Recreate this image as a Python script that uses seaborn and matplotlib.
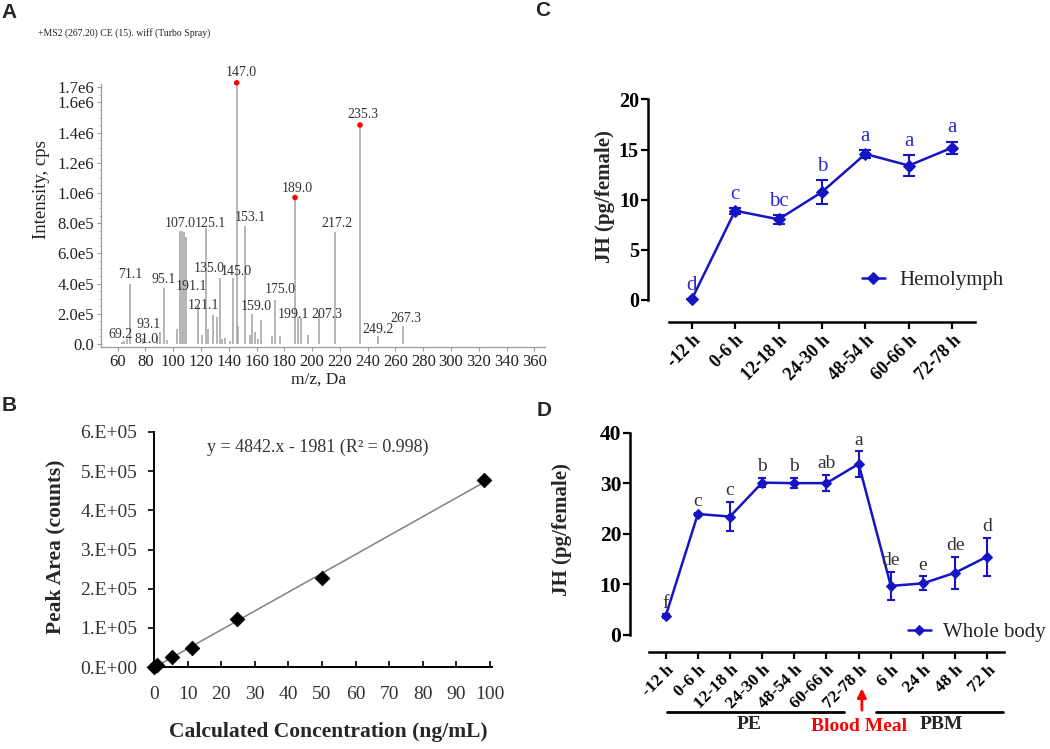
import numpy as np
import pandas as pd
import matplotlib.pyplot as plt
import seaborn as sns
from matplotlib.ticker import MultipleLocator

sns.set_theme(style="white")
plt.rcParams["font.family"] = ["Liberation Serif", "DejaVu Serif"]

SANS = ["Liberation Sans", "DejaVu Sans"]
BLUE = "#1515c4"


# A. MS2 spectrum (intensity in 1e5 cps)
ms_mz = [62.9, 64.6, 66.5, 68.9, 78.5, 88.1, 90.5, 93.4, 95.3, 102.5,
         104.9, 106.1, 107.8, 109.2, 118.0, 120.5, 123.4, 125.3, 128.9, 131.3,
         133.7, 134.9, 137.3, 140.9, 143.1, 145.7, 146.8, 151.7, 155.3, 156.9,
         158.9, 161.2, 163.0, 170.9, 173.3, 176.9, 187.7, 189.5, 191.8, 197.2,
         205.2, 216.5, 234.5, 247.2, 265.6]
ms_int = [0.1, 0.2, 0.3, 4.0, 0.4, 0.5, 0.8, 3.7, 0.25, 1.0,
          7.5, 7.5, 7.4, 7.1, 2.6, 0.6, 7.7, 1.0, 1.9, 1.8,
          4.4, 0.3, 0.4, 0.2, 4.35, 17.3, 1.2, 7.8, 0.6, 2.0,
          0.8, 0.3, 1.6, 0.5, 2.9, 0.5, 9.7, 1.8, 1.7, 0.6,
          2.05, 7.4, 14.5, 0.55, 1.2]
ms_marked_mz = [145.7, 187.7, 234.5]
ms_marked_int = [17.3, 9.7, 14.5]
ms_labels = ["147.0", "235.3", "189.0", "217.2", "153.1", "107.0", "125.1",
             "135.0", "145.0", "71.1", "95.1", "191.1", "121.1", "175.0",
             "159.0", "199.1", "207.3", "249.2", "267.3", "93.1", "69.2", "81.0"]
ms_label_x = [148.8, 236.6, 189.1, 217.9, 155.3, 104.9, 127.0, 125.8, 145.7,
              69.4, 92.9, 113.3, 121.7, 176.9, 160.1, 186.4, 210.5, 247.2,
              267.6, 82.6, 62.2, 80.6]
ms_label_y = [17.95, 15.2, 10.3, 8.0, 8.35, 8.0, 8.0, 5.0, 4.77, 4.57, 4.24,
              3.84, 2.58, 3.58, 2.45, 1.92, 1.92, 0.97, 1.7, 1.26, 0.66, 0.31]
ms_yticks = [0, 2, 4, 6, 8, 10, 12, 14, 16, 17]
ms_ytick_labels = ["0.0", "2.0e5", "4.0e5", "6.0e5", "8.0e5", "1.0e6",
                   "1.2e6", "1.4e6", "1.6e6", "1.7e6"]
ms_xticks = list(range(60, 361, 20))

# B. calibration curve
cal_conc = [0.0, 0.8, 5.5, 11.2, 24.8, 50.1, 98.3]
cal_area = [0.0, 0.05e5, 0.26e5, 0.49e5, 1.23e5, 2.28e5, 4.77e5]
cal_yticks = [0, 1e5, 2e5, 3e5, 4e5, 5e5, 6e5]
cal_ytick_labels = ["0.E+00", "1.E+05", "2.E+05", "3.E+05", "4.E+05", "5.E+05", "6.E+05"]
cal_equation = "y = 4842.x - 1981 (R² = 0.998)"

# C. hemolymph JH
hemo_times = ["-12 h", "0-6 h", "12-18 h", "24-30 h", "48-54 h", "60-66 h", "72-78 h"]
hemo_jh = [0.05, 8.9, 8.04, 10.77, 14.56, 13.4, 15.2]
hemo_err = [0.0, 0.3, 0.45, 1.16, 0.4, 1.08, 0.6]
hemo_letters = ["d", "c", "bc", "b", "a", "a", "a"]

# D. whole body JH
body_times = ["-12 h", "0-6 h", "12-18 h", "24-30 h", "48-54 h", "60-66 h",
              "72-78 h", "6 h", "24 h", "48 h", "72 h"]
body_jh = [3.75, 23.9, 23.4, 30.1, 30.0, 30.0, 33.8, 9.7, 10.2, 12.3, 15.5]
body_err = [0.3, 0.3, 2.9, 0.95, 1.0, 1.6, 2.5, 2.8, 1.4, 3.2, 3.75]
body_letters = ["f", "c", "c", "b", "b", "ab", "a", "de", "e", "de", "d"]


W, H = 1050, 749
fig = plt.figure(figsize=(W / 100, H / 100), dpi=100)
fig.patch.set_facecolor("white")


def box(left, right, top, bottom):
    return [left / W, 1 - bottom / H, (right - left) / W, (bottom - top) / H]


def ftext(x, y, s, **kw):
    fig.text(x / W, 1 - y / H, s, **kw)


# ---------------- A ----------------
axA = fig.add_axes(box(101, 545, 84, 347))
axA.vlines(ms_mz, 0, ms_int, color="#a2a2a2", lw=1.1, clip_on=False)
sns.scatterplot(x=ms_marked_mz, y=ms_marked_int, color="red", s=16,
                edgecolor="none", ax=axA, zorder=3, clip_on=False)
for t, x, y in zip(ms_labels, ms_label_x, ms_label_y):
    axA.text(x, y, t, ha="center", va="center", fontsize=10, color="#333333")
axA.set_xlim(48, 367.7)
axA.set_ylim(-0.2, 17.22)
axA.set_xticks(ms_xticks)
axA.set_yticks(ms_yticks)
axA.set_yticklabels(ms_ytick_labels)
axA.yaxis.set_minor_locator(MultipleLocator(0.5))
for s in ["top", "right"]:
    axA.spines[s].set_visible(False)
for s in ["left", "bottom"]:
    axA.spines[s].set_color("#9a9a9a")
    axA.spines[s].set_linewidth(0.9)
axA.tick_params(which="major", direction="out", length=3, width=0.8,
                color="#9a9a9a", labelsize=12, labelcolor="#222222", pad=2,
                left=True, bottom=True)
axA.tick_params(which="minor", direction="out", length=1.8, width=0.6,
                color="#b0b0b0", left=True)
ftext(38, 33, "+MS2 (267.20) CE (15). wiff (Turbo Spray)", fontsize=7,
      ha="left", va="center", color="#222222")
ftext(41, 190, "Intensity, cps", fontsize=13.5, rotation=90, ha="center",
      va="center", color="#222222")
ftext(319, 380, "m/z, Da", fontsize=12.5, ha="center", va="center", color="#222222")

# ---------------- B ----------------
axB = fig.add_axes(box(154, 492, 432, 667))
sns.regplot(x=cal_conc, y=cal_area, scatter=False, ci=None, ax=axB,
            color="#808080", line_kws={"lw": 1.1})
sns.scatterplot(x=cal_conc, y=cal_area, marker="D", color="black", s=55,
                edgecolor="black", ax=axB, zorder=3, clip_on=False)
axB.set_xlim(0, 100.6)
axB.set_ylim(0, 6e5)
axB.set_xticks(list(range(0, 101, 10)))
axB.set_yticks(cal_yticks)
axB.set_yticklabels(cal_ytick_labels)
for s in ["top", "right"]:
    axB.spines[s].set_visible(False)
for s in ["left", "bottom"]:
    axB.spines[s].set_color("black")
    axB.spines[s].set_linewidth(1.4)
axB.tick_params(axis="x", direction="in", length=4, width=1.2, pad=14,
                labelsize=14, bottom=True, colors="black", labelcolor="#333333")
axB.tick_params(axis="y", direction="out", length=4, width=1.2, pad=8,
                labelsize=14, left=True, colors="black", labelcolor="#333333")
axB.text(48.8, 5.6e5, cal_equation, ha="center", va="center", fontsize=13,
         color="#333333")
ftext(55, 547, "Peak Area (counts)", fontsize=15.5, fontweight="bold",
      rotation=90, ha="center", va="center")
ftext(328, 732, "Calculated Concentration (ng/mL)", fontsize=15.5,
      fontweight="bold", ha="center", va="center")


def jh_panel(ax, labels, vals, errs, letters, name, ylim, ytop, xlim,
             cap, ms, letter_off, letter_color, letter_size, tick_size, xtick_size):
    xs = np.arange(len(labels))
    ax.errorbar(xs, vals, yerr=errs, fmt="none", ecolor=BLUE, elinewidth=1.5,
                capsize=cap, capthick=1.5, zorder=2)
    sns.lineplot(x=xs, y=vals, marker="D", markersize=ms, color=BLUE, lw=1.8,
                 markeredgecolor=BLUE, label=name, ax=ax, zorder=3)
    for x, v, e, t in zip(xs, vals, errs, letters):
        ax.text(x, v + e + letter_off, t, ha="center", va="center",
                fontsize=letter_size, color=letter_color)
    ax.set_xlim(*xlim)
    ax.set_ylim(*ylim)
    ax.set_xticks(xs)
    ax.set_xticklabels(labels, rotation=45, ha="right", rotation_mode="anchor",
                       fontweight="bold", fontsize=xtick_size)
    ax.set_yticks(list(range(0, ytop + 1, ytop // 4)))
    for s in ["top", "right"]:
        ax.spines[s].set_visible(False)
    for s in ["left", "bottom"]:
        ax.spines[s].set_color("black")
        ax.spines[s].set_linewidth(1.8)
    ax.spines["left"].set_bounds(0, ytop)
    ax.spines["bottom"].set_bounds(-0.52, len(labels) - 0.48)
    ax.tick_params(axis="both", direction="out", length=5, width=1.6,
                   colors="black", left=True, bottom=True)
    ax.tick_params(axis="y", labelsize=tick_size, pad=1.5)
    ax.tick_params(axis="x", pad=2)
    for t in ax.get_yticklabels():
        t.set_fontweight("bold")


# ---------------- C ----------------
axC = fig.add_axes(box(648, 978, 96.4, 322))
jh_panel(axC, hemo_times, hemo_jh, hemo_err, hemo_letters, "Hemolymph",
         (-2.2, 20.3), 20, (-1.006, 6.592), 4.3, 6.5, 1.35, "#2a2ad0", 15, 14.5, 13)
axC.legend(loc="center left", bbox_to_anchor=(862 / W, 1 - 280 / H),
           bbox_transform=fig.transFigure, frameon=False, fontsize=15,
           handlelength=1.1, handletextpad=0.7, borderaxespad=0, borderpad=0)
ftext(605, 197, "JH (pg/female)", fontsize=15, fontweight="bold", rotation=90,
      ha="center", va="center")

# ---------------- D ----------------
axD = fig.add_axes(box(630.3, 1006.6, 430, 652.3))
jh_panel(axD, body_times, body_jh, body_err, body_letters, "Whole body",
         (-3.42, 40.5), 40, (-1.1, 10.6), 3.2, 5.5, 2.2, "#333333", 14, 15.5, 12.5)
axD.legend(loc="center left", bbox_to_anchor=(908 / W, 1 - 632 / H),
           bbox_transform=fig.transFigure, frameon=False, fontsize=15,
           handlelength=1.1, handletextpad=0.6, borderaxespad=0, borderpad=0)
ftext(561.7, 530, "JH (pg/female)", fontsize=15, fontweight="bold", rotation=90,
      ha="center", va="center")

axD.plot([0.04, 5.54], [-15.2, -15.2], color="black", lw=2, clip_on=False)
axD.plot([6.54, 10.49], [-15.2, -15.2], color="black", lw=2, clip_on=False)
axD.text(2.59, -17.6, "PE", ha="center", va="center", fontsize=14, fontweight="bold")
axD.text(6.0, -18.0, "Blood Meal", ha="center", va="center", fontsize=14,
         fontweight="bold", color="red")
axD.text(8.58, -17.6, "PBM", ha="center", va="center", fontsize=14, fontweight="bold")
axD.annotate("", xy=(6.1, -10.0), xytext=(6.1, -15.4), annotation_clip=False,
             arrowprops=dict(arrowstyle="-|>", color="red", lw=2, mutation_scale=13))

# panel letters
for t, x, y in [("A", 9, 13), ("B", 9, 405), ("C", 543, 11), ("D", 544, 410)]:
    ftext(x, y, t, fontfamily=SANS, fontweight="bold", fontsize=15,
          ha="center", va="center")

fig.savefig("out.png", dpi=100, facecolor="white")
